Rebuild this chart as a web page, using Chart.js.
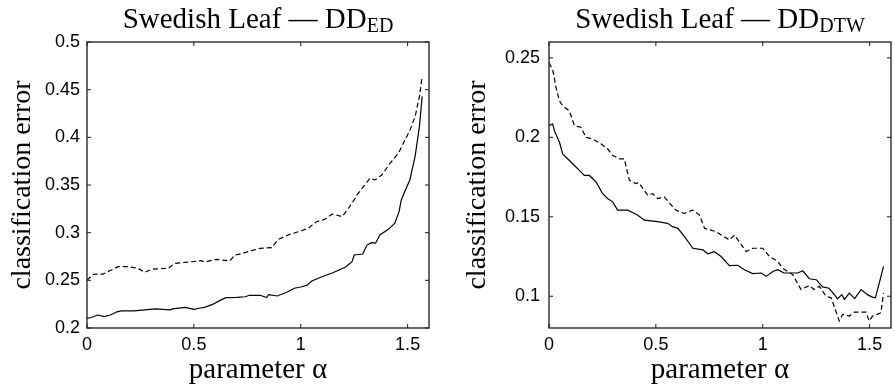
<!DOCTYPE html>
<html>
<head>
<meta charset="utf-8">
<script src="https://cdn.jsdelivr.net/npm/chart.js@4.4.1/dist/chart.umd.min.js"></script>
<style>
    html, body { margin: 0; padding: 0; background: #fff; }
    #wrap { position: relative; width: 895px; height: 389px; }
    #chart-ed { position: absolute; left: 0; top: 0; }
    #chart-dtw { position: absolute; left: 445px; top: 0; }
</style>
</head>
<body>
<div id="wrap">
    <canvas id="chart-ed" width="445" height="389"></canvas>
    <canvas id="chart-dtw" width="450" height="389"></canvas>
</div>
<script>
// ================== Data ==================
const alphaTicks = [0, 0.5, 1, 1.5];
const edTicks = [0.2, 0.25, 0.3, 0.35, 0.4, 0.45, 0.5];
const dtwTicks = [0.1, 0.15, 0.2, 0.25];

// DD_ED, solid curve
const edSolidAlpha = [0, 0.02, 0.05, 0.08, 0.11, 0.14, 0.16, 0.22, 0.27, 0.32, 0.39, 0.40, 0.46, 0.50, 0.53,
    0.55, 0.59, 0.62, 0.65, 0.70, 0.74, 0.76, 0.81, 0.84, 0.85, 0.89, 0.94, 0.97, 1.00, 1.03,
    1.05, 1.09, 1.15, 1.21, 1.24, 1.25, 1.29, 1.31, 1.33, 1.35, 1.37, 1.41, 1.44, 1.46, 1.47,
    1.49, 1.51, 1.535, 1.555, 1.568];
const edSolidErr = [0.210, 0.211, 0.2136, 0.212, 0.2136, 0.217, 0.218, 0.218, 0.219, 0.220, 0.219, 0.220, 0.2217, 0.2196, 0.221,
    0.2217, 0.225, 0.2287, 0.2318, 0.2322, 0.2328, 0.2343, 0.2343, 0.232, 0.235, 0.2336, 0.238, 0.2417, 0.243, 0.245,
    0.249, 0.253, 0.258, 0.264, 0.2696, 0.2766, 0.2776, 0.287, 0.2895, 0.289, 0.2976, 0.3035, 0.31, 0.322, 0.334,
    0.345, 0.355, 0.380, 0.411, 0.443];

// DD_ED, dashed curve
const edDashedAlpha = [0, 0.028, 0.075, 0.106, 0.145, 0.19, 0.239, 0.27, 0.302, 0.38, 0.41, 0.473, 0.536, 0.55, 0.606,
    0.668, 0.692, 0.723, 0.77, 0.809, 0.864, 0.895, 0.941, 0.988, 1.035, 1.074, 1.113, 1.145, 1.16, 1.194,
    1.223, 1.254, 1.262, 1.293, 1.324, 1.348, 1.379, 1.418, 1.457, 1.48, 1.511, 1.535, 1.555, 1.568];
const edDashedErr = [0.250, 0.2563, 0.2566, 0.260, 0.2643, 0.2643, 0.2626, 0.2584, 0.2616, 0.2626, 0.2678, 0.2692, 0.2706, 0.2692, 0.272,
    0.2703, 0.2766, 0.278, 0.2811, 0.2836, 0.2843, 0.293, 0.2976, 0.301, 0.3046, 0.3115, 0.314, 0.3193, 0.319, 0.3168,
    0.3256, 0.336, 0.3395, 0.3482, 0.357, 0.3553, 0.3605, 0.3728, 0.3833, 0.3937, 0.4077, 0.4217, 0.4426, 0.4636];

// DD_DTW, solid curve
const dtwSolidAlpha = [0, 0.017, 0.025, 0.049, 0.064, 0.087, 0.119, 0.142, 0.165, 0.189, 0.22, 0.251, 0.274, 0.298, 0.321,
    0.368, 0.414, 0.446, 0.508, 0.555, 0.578, 0.603, 0.634, 0.673, 0.72, 0.743, 0.774, 0.805, 0.844, 0.883,
    0.914, 0.953, 0.993, 1.016, 1.047, 1.07, 1.1, 1.164, 1.187, 1.218, 1.25, 1.28, 1.31, 1.335, 1.35,
    1.37, 1.382, 1.405, 1.43, 1.46, 1.49, 1.51, 1.527, 1.545, 1.565];
const dtwSolidErr = [0.2073, 0.2085, 0.2042, 0.1969, 0.1896, 0.1865, 0.1823, 0.1792, 0.176, 0.176, 0.1719, 0.1646, 0.1615, 0.1594, 0.1542,
    0.1542, 0.1511, 0.1479, 0.1469, 0.1459, 0.1438, 0.1427, 0.1375, 0.1302, 0.1292, 0.1267, 0.128, 0.125, 0.1192, 0.1195,
    0.1167, 0.1142, 0.1146, 0.1125, 0.1156, 0.1167, 0.1146, 0.1146, 0.1160, 0.1110, 0.1104, 0.1059, 0.105, 0.101, 0.0984,
    0.101, 0.098, 0.102, 0.0985, 0.1042, 0.101, 0.0996, 0.099, 0.1083, 0.1188];

// DD_DTW, dashed curve
const dtwDashedAlpha = [0, 0.017, 0.033, 0.049, 0.064, 0.095, 0.119, 0.15, 0.173, 0.204, 0.243, 0.274, 0.298, 0.329, 0.352,
    0.376, 0.407, 0.42, 0.461, 0.485, 0.508, 0.539, 0.593, 0.633, 0.672, 0.704, 0.728, 0.782, 0.844, 0.868,
    0.922, 0.953, 1.0, 1.031, 1.07, 1.093, 1.14, 1.179, 1.218, 1.24, 1.265, 1.296, 1.32, 1.358, 1.374,
    1.405, 1.428, 1.483, 1.498, 1.514, 1.553, 1.565];
const dtwDashedErr = [0.2469, 0.2428, 0.2313, 0.2229, 0.2198, 0.2167, 0.2073, 0.2063, 0.2, 0.199, 0.1959, 0.1928, 0.1886, 0.1865, 0.1865,
    0.173, 0.1709, 0.1715, 0.1636, 0.1646, 0.1615, 0.1625, 0.1542, 0.1521, 0.1542, 0.1511, 0.1427, 0.1406, 0.1354, 0.1385,
    0.1281, 0.1302, 0.1302, 0.125, 0.1219, 0.1177, 0.1136, 0.1042, 0.1067, 0.1042, 0.1063, 0.1, 0.099, 0.0844, 0.0886,
    0.0875, 0.090, 0.090, 0.0844, 0.0875, 0.0896, 0.102];

// ================== Helpers ==================
const toPoints = (xs, ys) => xs.map((x, i) => ({ x, y: ys[i] }));

// box around the axes with inward ticks (matlab style)
const framePlugin = {
    id: 'frame',
    afterDatasetsDraw(chart) {
        const { ctx, chartArea: a, scales: { x, y } } = chart;
        ctx.save();
        ctx.strokeStyle = '#1a1a1a';
        ctx.lineWidth = 1.3;
        ctx.strokeRect(a.left, a.top, a.right - a.left, a.bottom - a.top);
        ctx.lineWidth = 1;
        ctx.beginPath();
        x.ticks.forEach(t => {
            const px = x.getPixelForValue(t.value);
            ctx.moveTo(px, a.bottom); ctx.lineTo(px, a.bottom - 4);
            ctx.moveTo(px, a.top); ctx.lineTo(px, a.top + 4);
        });
        y.ticks.forEach(t => {
            const py = y.getPixelForValue(t.value);
            ctx.moveTo(a.left, py); ctx.lineTo(a.left + 4, py);
            ctx.moveTo(a.right, py); ctx.lineTo(a.right - 4, py);
        });
        ctx.stroke();
        ctx.restore();
    }
};

// title with a subscript part
function titlePlugin(main, sub) {
    return {
        id: 'subTitle',
        afterDraw(chart) {
            const { ctx, chartArea: a } = chart;
            ctx.save();
            ctx.fillStyle = '#000';
            ctx.textBaseline = 'alphabetic';
            ctx.textAlign = 'left';
            ctx.font = '29px "Liberation Serif"';
            const w1 = ctx.measureText(main).width;
            ctx.font = '20px "Liberation Serif"';
            const w2 = ctx.measureText(sub).width;
            const x0 = (a.left + a.right) / 2 - (w1 + w2) / 2;
            ctx.font = '29px "Liberation Serif"';
            ctx.fillText(main, x0, 28);
            ctx.font = '20px "Liberation Serif"';
            ctx.fillText(sub, x0 + w1, 32);
            ctx.restore();
        }
    };
}

function makeChart(id, cfg) {
    const tickFont = { family: 'Liberation Sans', size: 18 };
    const titleFont = { family: 'Liberation Serif', size: 28, lineHeight: 1 };
    return new Chart(document.getElementById(id), {
        type: 'line',
        data: {
            datasets: [
                {
                    data: toPoints(cfg.solidX, cfg.solidY),
                    borderColor: '#000',
                    borderWidth: 1.2,
                    pointRadius: 0,
                    tension: 0
                },
                {
                    data: toPoints(cfg.dashX, cfg.dashY),
                    borderColor: '#000',
                    borderWidth: 1.2,
                    borderDash: [5, 3],
                    pointRadius: 0,
                    tension: 0
                }
            ]
        },
        options: {
            responsive: false,
            animation: false,
            devicePixelRatio: 1,
            layout: { padding: { left: 0, top: 42, right: cfg.padRight, bottom: 0 } },
            plugins: {
                legend: { display: false },
                tooltip: { enabled: false },
                title: { display: false }
            },
            scales: {
                x: {
                    type: 'linear',
                    min: 0,
                    max: 1.6,
                    afterBuildTicks: s => { s.ticks = alphaTicks.map(v => ({ value: v })); },
                    afterFit: s => { s.height = 61; },
                    grid: { display: false, drawTicks: false },
                    border: { display: false },
                    ticks: { color: '#000', font: tickFont, padding: 6, maxRotation: 0, callback: v => String(v) },
                    title: {
                        display: true, text: 'parameter α', color: '#000',
                        font: { family: 'Liberation Serif', size: 29, lineHeight: 1 },
                        padding: { top: 0, bottom: 4 }
                    }
                },
                y: {
                    type: 'linear',
                    min: cfg.yMin,
                    max: cfg.yMax,
                    afterBuildTicks: s => { s.ticks = cfg.yTicks.map(v => ({ value: v })); },
                    afterFit: s => { s.width = cfg.yWidth; },
                    grid: { display: false, drawTicks: false },
                    border: { display: false },
                    ticks: { color: '#000', font: tickFont, padding: cfg.yLabelPad, callback: v => String(v) },
                    title: {
                        display: true, text: 'classification error', color: '#000', font: titleFont,
                        padding: { top: cfg.yTitlePad, bottom: 0 }
                    }
                }
            }
        },
        plugins: [framePlugin, titlePlugin('Swedish Leaf \u2014 DD', cfg.sub)]
    });
}

// ================== Charts ==================
makeChart('chart-ed', {
    solidX: edSolidAlpha, solidY: edSolidErr,
    dashX: edDashedAlpha, dashY: edDashedErr,
    yMin: 0.2, yMax: 0.5, yTicks: edTicks,
    yWidth: 87, padRight: 16, yLabelPad: 7, yTitlePad: 9,
    sub: 'ED'
});

makeChart('chart-dtw', {
    solidX: dtwSolidAlpha, solidY: dtwSolidErr,
    dashX: dtwDashedAlpha, dashY: dtwDashedErr,
    yMin: 0.08, yMax: 0.26, yTicks: dtwTicks,
    yWidth: 104, padRight: 4, yLabelPad: 9, yTitlePad: 19,
    sub: 'DTW'
});
</script>
</body>
</html>
